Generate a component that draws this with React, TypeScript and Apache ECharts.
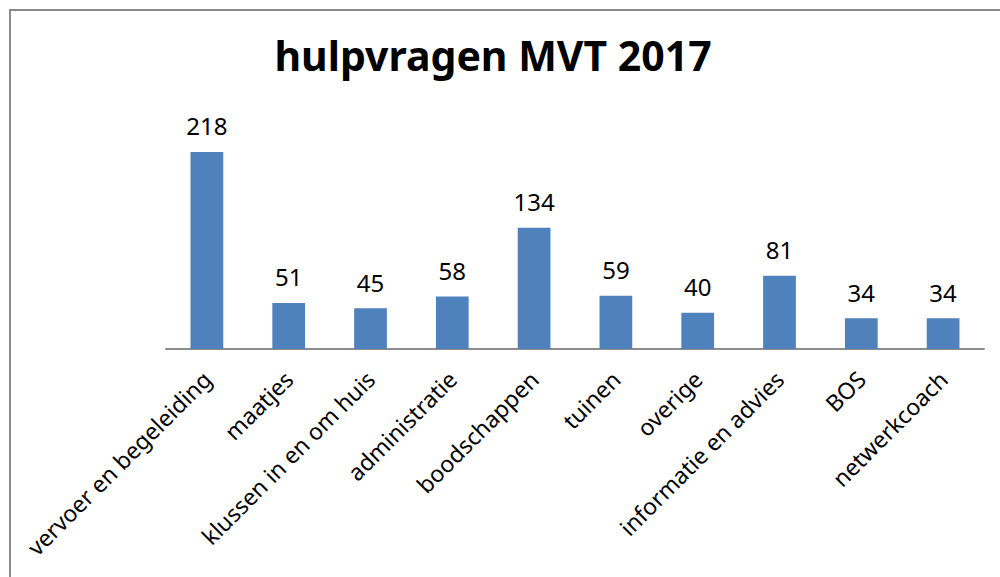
import React, { useEffect, useRef } from "react";
import * as echarts from "echarts";

const categories = [
  "vervoer en begeleiding",
  "maatjes",
  "klussen in en om huis",
  "administratie",
  "boodschappen",
  "tuinen",
  "overige",
  "informatie en advies",
  "BOS",
  "netwerkcoach",
];
const values = [218, 51, 45, 58, 134, 59, 40, 81, 34, 34];
const titleText = "hulpvragen MVT 2017";

export default function App() {
  const ref = useRef<HTMLDivElement>(null);
  useEffect(() => {
    const chart = echarts.init(ref.current!, null, { renderer: "svg" });
    chart.setOption({
      animation: false,
      backgroundColor: "#ffffff",
      title: {
        text: titleText,
        left: 488,
        textAlign: "center",
        top: 29,
        textStyle: {
          fontFamily: "Noto Sans",
          fontWeight: "bold",
          fontSize: 41,
          color: "#000000",
        },
      },
      graphic: [
        {
          type: "rect",
          shape: { x: 10, y: 10, width: 1000, height: 600 },
          style: { fill: "none", stroke: "#8a8a8a", lineWidth: 2 },
          silent: true,
        },
      ],
      grid: { left: 166, right: 16, top: 123, bottom: 228 },
      xAxis: {
        type: "category",
        data: categories,
        axisLine: { lineStyle: { color: "#8c8c8c", width: 2 } },
        axisTick: { show: false },
        axisLabel: {
          rotate: 45,
          interval: 0,
          margin: 26,
          fontFamily: "Noto Sans",
          fontSize: 23,
          color: "#000000",
        },
      },
      yAxis: {
        type: "value",
        min: 0,
        max: 250,
        show: false,
      },
      series: [
        {
          type: "bar",
          data: values,
          barWidth: "40%",
          itemStyle: { color: "#4f81bd" },
          label: {
            show: true,
            position: "top",
            distance: 14,
            fontFamily: "Noto Sans",
            fontSize: 24,
            color: "#000000",
          },
        },
      ],
    });
    return () => chart.dispose();
  }, []);
  return (
    <div
      ref={ref}
      style={{ position: "fixed", left: 0, top: 0, width: 1000, height: 577 }}
    />
  );
}
